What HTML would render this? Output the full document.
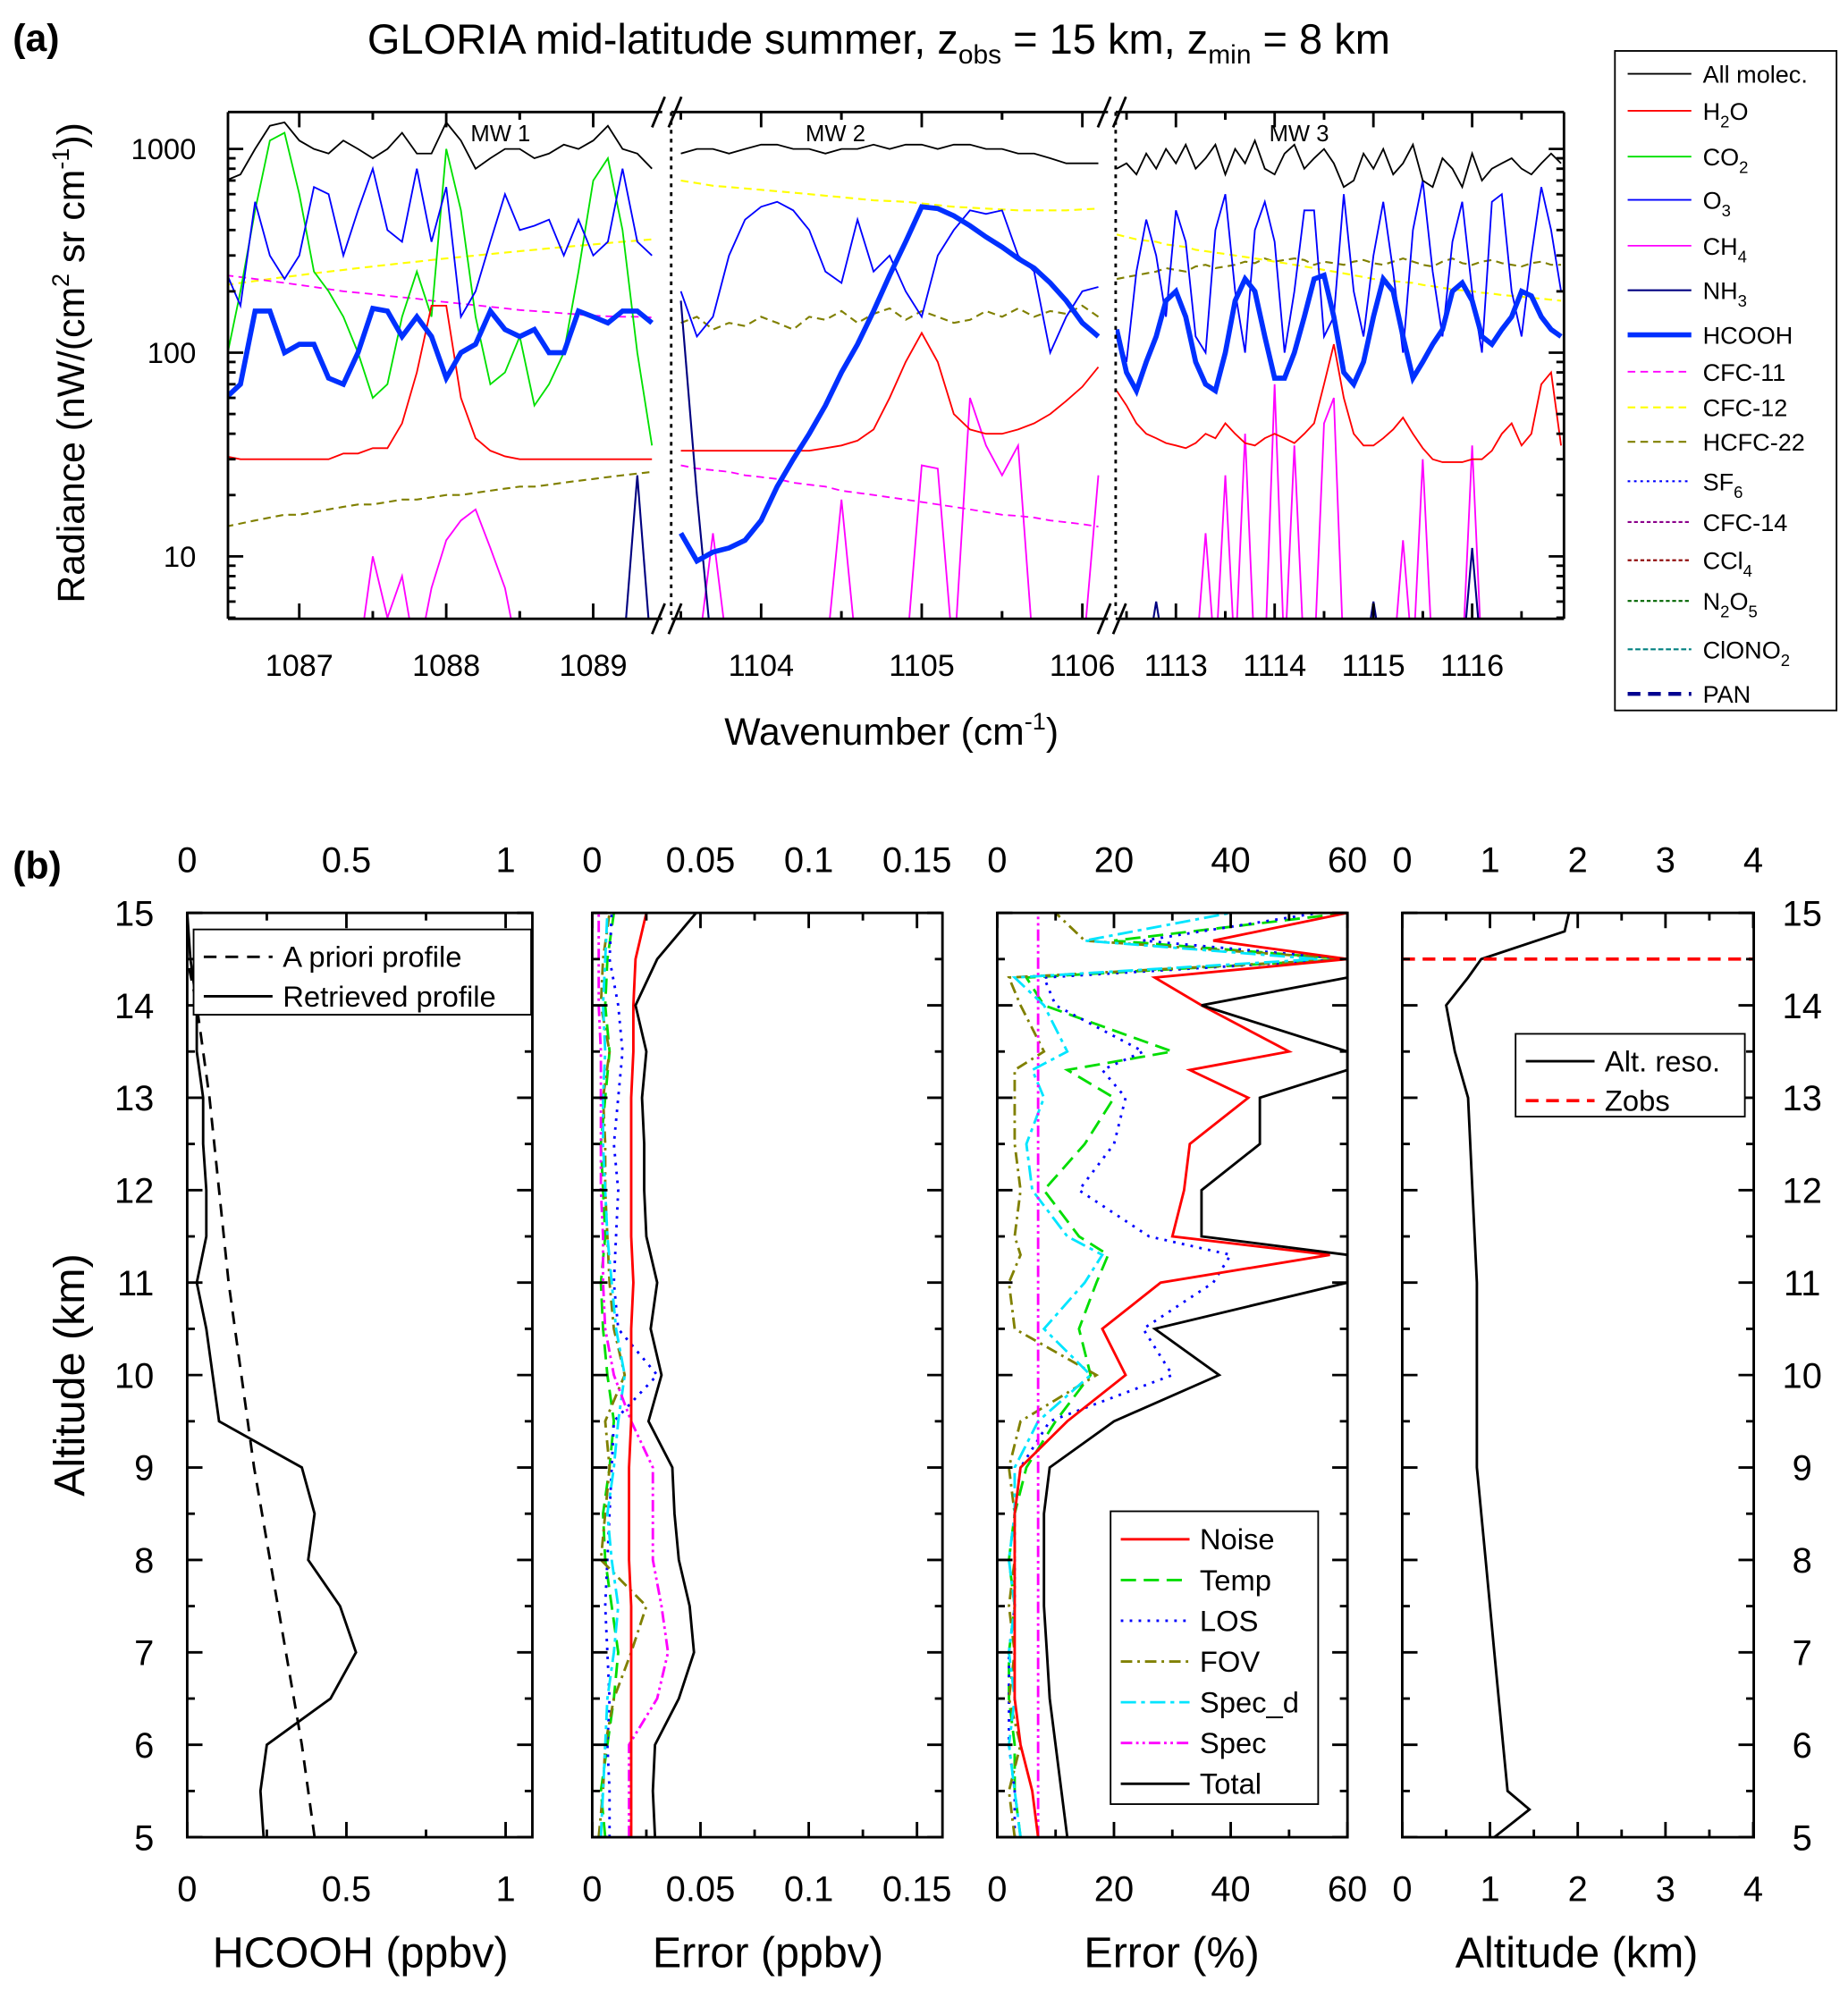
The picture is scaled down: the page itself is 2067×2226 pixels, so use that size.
<!DOCTYPE html>
<html><head><meta charset="utf-8"><title>GLORIA HCOOH</title>
<style>html,body{margin:0;padding:0;background:#fff}svg{display:block}text{font-family:"Liberation Sans",Arial,sans-serif;fill:#000}</style>
</head><body>
<svg id="fig" xmlns="http://www.w3.org/2000/svg" width="2067" height="2226" viewBox="0 0 1451 1563" preserveAspectRatio="none">
<rect x="0" y="0" width="1451" height="1563" fill="#fff"/>
<text x="10" y="40" font-size="30" font-weight="bold">(a)</text>
<text x="10" y="690" font-size="30" font-weight="bold">(b)</text>
<text x="690" y="42" font-size="33" text-anchor="middle">GLORIA mid-latitude summer, z<tspan font-size="21" dy="8">obs</tspan><tspan dy="-8"> = 15 km, z</tspan><tspan font-size="21" dy="8">min</tspan><tspan dy="-8"> = 8 km</tspan></text>
<text transform="translate(66,285) rotate(-90)" font-size="30" text-anchor="middle">Radiance (nW/(cm<tspan font-size="19" dy="-12">2</tspan><tspan dy="12"> sr cm</tspan><tspan font-size="19" dy="-12">-1</tspan><tspan dy="12">))</tspan></text>
<text x="700" y="585" font-size="30" text-anchor="middle">Wavenumber (cm<tspan font-size="19" dy="-12">-1</tspan><tspan dy="12">)</tspan></text>
<text transform="translate(66,1080) rotate(-90)" font-size="34" text-anchor="middle">Altitude (km)</text>
<g id="ga"></g><g id="gb"></g>
</svg>
<script>
const NS="http://www.w3.org/2000/svg";
// ---------- panel (a) data ----------
const mw1Wn=[1086.5,1086.6,1086.7,1086.8,1086.9,1087.0,1087.1,1087.2,1087.3,1087.4,1087.5,1087.6,1087.7,1087.8,1087.9,1088.0,1088.1,1088.2,1088.3,1088.4,1088.5,1088.6,1088.7,1088.8,1088.9,1089.0,1089.1,1089.2,1089.3,1089.4];
const mw1All=[700,750,1000,1300,1350,1100,1000,950,1100,1000,900,1000,1200,950,950,1350,1100,800,900,1000,1000,900,950,1050,1000,1100,1300,1000,950,800];
const mw1H2O=[31,30,30,30,30,30,30,30,32,32,34,34,45,80,170,170,60,38,33,31,30,30,30,30,30,30,30,30,30,30];
const mw1CO2=[90,200,500,1100,1200,600,250,200,150,100,60,70,150,250,150,1000,500,150,70,80,120,55,70,100,250,700,900,400,100,35];
const mw1O3=[250,170,550,300,230,300,650,600,300,500,800,400,350,800,350,650,150,200,350,600,400,420,450,300,450,300,350,800,350,300];
const mw1CH4=[3,3,3,3,3,3,3,3,3,3,10,5,8,3,7,12,15,17,11,7,3,3,3,3,3,3,3,3,3,3];
const mw1NH3=[3,3,3,3,3,3,3,3,3,3,3,3,3,3,3,3,3,3,3,3,3,3,3,3,3,3,3,3,25,3];
const mw1HCOOH=[60,70,160,160,100,110,110,75,70,100,165,160,120,150,120,75,100,110,160,130,120,130,100,100,160,150,140,160,160,140];
const mw1CFC11=[240,235,230,225,220,215,210,205,200,197,194,190,187,184,180,177,174,171,168,165,162,160,158,156,154,152,151,150,150,149];
const mw1CFC12=[215,220,225,230,235,240,245,250,255,260,265,270,275,280,285,290,295,300,305,310,315,320,325,330,335,340,345,350,355,360];
const mw1HCFC22=[14,14.5,15,15.5,16,16,16.5,17,17.5,18,18,18.5,19,19,19.5,20,20,20.5,21,21.5,22,22,22.5,23,23.5,24,24.5,25,25.5,26];
const mw2Wn=[1103.5,1103.6,1103.7,1103.8,1103.9,1104.0,1104.1,1104.2,1104.3,1104.4,1104.5,1104.6,1104.7,1104.8,1104.9,1105.0,1105.1,1105.2,1105.3,1105.4,1105.5,1105.6,1105.7,1105.8,1105.9,1106.0,1106.1];
const mw2All=[950,1000,1000,950,1000,1050,1050,1000,1000,950,1000,1000,1050,1000,1050,1050,1000,1050,1050,1000,1000,950,950,900,850,850,850];
const mw2H2O=[33,33,33,33,33,33,33,33,33,34,35,37,42,60,90,125,90,50,42,40,40,42,45,50,58,68,85];
const mw2O3=[200,120,150,300,450,520,550,500,400,250,220,450,250,300,200,150,300,400,500,480,500,300,250,100,150,200,210];
const mw2CH4=[3,3,13,3,3,3,3,3,3,3,19,3,3,3,3,28,27,3,60,35,25,35,3,3,3,3,25];
const mw2NH3=[180,20,3,3,3,3,3,3,3,3,3,3,3,3,3,3,3,3,3,3,3,3,3,3,3,3,3];
const mw2HCOOH=[13,9.5,10.5,11,12,15,22,30,40,55,80,110,160,240,350,520,510,470,420,370,330,290,260,220,180,140,120];
const mw2CFC11=[28,27,26.5,26,25,24.5,24,23,22.5,22,21,20.5,20,19.5,19,18.5,18,17.5,17,16.5,16,15.8,15.5,15,14.7,14.4,14];
const mw2CFC12=[700,680,660,650,640,630,620,610,600,590,580,570,560,555,550,540,530,520,515,510,505,500,500,500,500,505,510];
const mw2HCFC22=[140,150,130,140,135,150,140,130,150,145,160,140,155,165,145,160,150,140,145,160,150,165,150,160,155,170,150];
const mw3Wn=[1112.4,1112.5,1112.6,1112.7,1112.8,1112.9,1113.0,1113.1,1113.2,1113.3,1113.4,1113.5,1113.6,1113.7,1113.8,1113.9,1114.0,1114.1,1114.2,1114.3,1114.4,1114.5,1114.6,1114.7,1114.8,1114.9,1115.0,1115.1,1115.2,1115.3,1115.4,1115.5,1115.6,1115.7,1115.8,1115.9,1116.0,1116.1,1116.2,1116.3,1116.4,1116.5,1116.6,1116.7,1116.8,1116.9];
const mw3All=[800,850,750,950,800,1000,850,1050,800,900,1050,750,1000,850,1100,800,750,950,1050,800,900,1000,850,650,700,950,800,1000,750,850,1050,700,650,900,800,650,950,700,800,850,900,800,750,850,950,850];
const mw3H2O=[65,55,45,40,38,36,35,34,36,40,38,45,40,36,35,38,40,38,36,40,45,70,110,60,40,35,35,38,42,48,40,34,30,29,29,29,30,30,33,40,45,35,40,70,80,35];
const mw3O3=[130,90,250,450,300,150,500,350,120,100,400,600,200,100,400,550,350,100,200,500,500,120,150,600,200,120,300,550,250,100,400,700,250,120,350,550,200,100,550,600,200,120,300,650,400,200];
const mw3CH4=[3,3,3,3,3,3,3,3,3,13,3,25,3,40,3,3,70,3,35,3,3,45,60,3,3,3,3,3,3,12,3,30,3,3,3,3,35,3,3,3,3,3,3,3,3,3];
const mw3NH3=[3,3,3,3,6,3,3,3,3,3,3,3,3,3,3,3,3,3,3,3,3,3,3,3,3,3,6,3,3,3,3,3,3,3,3,3,11,3,3,3,3,3,3,3,3,3];
const mw3HCOOH=[130,80,65,90,120,180,200,150,90,70,65,100,180,230,200,120,75,75,100,150,230,240,150,80,70,90,150,230,200,120,75,90,110,130,200,220,180,120,110,130,150,200,190,150,130,120];
const mw3CFC12=[380,370,360,355,350,340,335,330,320,315,310,305,300,295,290,285,280,275,270,265,260,255,250,245,240,235,230,228,225,222,220,215,212,208,205,202,200,197,195,192,190,188,186,184,182,180];
const mw3HCFC22=[230,235,240,245,250,260,255,250,265,270,260,265,270,280,275,290,280,285,290,285,270,280,275,270,280,285,275,270,280,290,280,270,265,280,290,275,270,280,285,275,270,265,275,280,270,270];
const legendNames=["All molec.","H2O","CO2","O3","CH4","NH3","HCOOH","CFC-11","CFC-12","HCFC-22","SF6","CFC-14","CCl4","N2O5","ClONO2","PAN"];
// ---------- panel (b) data ----------
const altA=[5,5.5,6,6.5,7,7.5,8,8.5,9,9.5,10,10.5,11,11.5,12,12.5,13,13.5,14,14.5,15];
const retrieved=[0.24,0.23,0.25,0.45,0.53,0.48,0.38,0.40,0.36,0.10,0.08,0.06,0.03,0.06,0.06,0.05,0.05,0.03,0.03,0.01,0.0];
const aprioriAlt=[5,6,7,8,9,10,11,12,13,14,14.5];
const apriori=[0.40,0.36,0.31,0.26,0.21,0.17,0.13,0.10,0.07,0.03,0.0];
const errNoise=[0.018,0.018,0.018,0.018,0.018,0.018,0.017,0.017,0.017,0.018,0.018,0.018,0.019,0.018,0.018,0.018,0.018,0.019,0.019,0.02,0.025];
const errTemp=[0.006,0.004,0.007,0.01,0.012,0.009,0.006,0.005,0.008,0.01,0.007,0.005,0.004,0.006,0.005,0.004,0.006,0.008,0.006,0.007,0.01];
const errLOS=[0.008,0.008,0.007,0.008,0.007,0.006,0.007,0.008,0.009,0.01,0.03,0.012,0.01,0.011,0.012,0.01,0.012,0.014,0.012,0.008,0.009];
const errFOV=[0.003,0.005,0.006,0.01,0.018,0.025,0.004,0.006,0.008,0.006,0.015,0.01,0.008,0.007,0.006,0.006,0.005,0.008,0.004,0.005,0.008];
const errSpecD=[0.004,0.005,0.006,0.007,0.01,0.012,0.009,0.007,0.01,0.012,0.015,0.011,0.009,0.007,0.006,0.005,0.005,0.006,0.005,0.006,0.007];
const errSpec=[0.017,0.017,0.017,0.03,0.035,0.032,0.028,0.028,0.028,0.018,0.01,0.006,0.005,0.005,0.004,0.004,0.004,0.004,0.003,0.003,0.003];
const errTotal=[0.029,0.028,0.029,0.04,0.047,0.045,0.04,0.038,0.037,0.026,0.032,0.027,0.03,0.025,0.024,0.024,0.023,0.025,0.02,0.03,0.048];
const pctAlt=[5,5.5,6,6.5,7,7.5,8,8.5,9,9.5,10,10.5,11,11.3,11.5,12,12.5,13,13.3,13.5,14,14.3,14.5,14.7,15];
const pctNoise=[7,6,4,3,3,3,3,3,4,12,22,18,28,57,30,32,33,43,33,50,35,27,60,37,60];
const pctTemp=[4,3,3,2,2,3,2,3,5,10,16,14,17,19,14,8,15,20,12,30,8,5,60,20,60];
const pctLOS=[3,3,2,2,2,3,3,3,4,9,30,25,37,40,26,14,20,22,18,25,10,8,60,25,55];
const pctFOV=[3,2,4,2,3,2,3,3,2,4,17,3,2,4,3,4,3,3,3,8,4,2,60,15,10];
const pctSpecD=[4,3,2,3,2,3,2,3,3,7,16,8,15,18,12,6,5,8,6,12,8,3,55,15,40];
const pctSpec=[7,7,7,7,7,7,7,7,7,7,7,7,7,7,7,7,7,7,7,7,7,7,7,7,7];
const pctTotal=[12,11,10,9,8.5,8,8,8,9,20,38,27,60,60,35,35,45,45,60,60,35,60,60,60,60];
const resAlt=[5,5.3,5.5,6,7,8,9,10,11,12,13,13.5,14,14.3,14.5,14.8,15];
const altReso=[1.05,1.45,1.2,1.15,1.05,0.95,0.85,0.85,0.85,0.8,0.75,0.6,0.5,0.75,0.9,1.85,1.9];
const zobs=14.5;

function el(tag,attrs,parent){const e=document.createElementNS(NS,tag);for(const k in attrs)e.setAttribute(k,attrs[k]);parent.appendChild(e);return e;}
function txt(s,x,y,size,anchor,parent){const t=el("text",{x:x,y:y,"font-size":size,"text-anchor":anchor||"middle"},parent);t.textContent=s;return t;}
const ga=document.getElementById("ga"), gb=document.getElementById("gb");
const defs=el("defs",{},document.getElementById("fig"));

// ---- panel a scales ----
const TOP=88,BOT=486;
const yA=v=>277-160*Math.log10(v/100);
const segs=[{x0:179,x1:520,w0:1086.515,w1:1089.47},{x0:527,x1:870,w0:1103.44,w1:1106.16},{x0:876,x1:1228,w0:1112.39,w1:1116.93}];
segs.forEach((s,i)=>{s.f=w=>s.x0+(w-s.w0)/(s.w1-s.w0)*(s.x1-s.x0);const cp=el("clipPath",{id:"cpa"+i},defs);el("rect",{x:s.x0,y:TOP,width:s.x1-s.x0,height:BOT-TOP},cp);});
const styles={
 all:{stroke:"#000","stroke-width":1.3},h2o:{stroke:"#ff0000","stroke-width":1.3},co2:{stroke:"#00e000","stroke-width":1.3},o3:{stroke:"#0000ff","stroke-width":1.3},
 ch4:{stroke:"#ff00ff","stroke-width":1.3},nh3:{stroke:"#000080","stroke-width":1.5},hcooh:{stroke:"#0030ff","stroke-width":4},
 cfc11:{stroke:"#ff00ff","stroke-width":1.3,"stroke-dasharray":"6,4"},cfc12:{stroke:"#ffff00","stroke-width":1.5,"stroke-dasharray":"6,4"},hcfc22:{stroke:"#808000","stroke-width":1.5,"stroke-dasharray":"6,4"}};
function specLine(seg,wn,vals,st,name){
 const s=segs[seg];const pts=wn.map((w,i)=>s.f(w).toFixed(1)+","+yA(vals[i]).toFixed(1)).join(" ");
 const p=el("polyline",Object.assign({points:pts,fill:"none","clip-path":"url(#cpa"+seg+")"},st),ga);
 
 
}
const order=[["hcfc22",[mw1HCFC22,mw2HCFC22,mw3HCFC22]],["cfc12",[mw1CFC12,mw2CFC12,mw3CFC12]],["cfc11",[mw1CFC11,mw2CFC11,null]],["ch4",[mw1CH4,mw2CH4,mw3CH4]],["nh3",[mw1NH3,mw2NH3,mw3NH3]],["co2",[mw1CO2,null,null]],["h2o",[mw1H2O,mw2H2O,mw3H2O]],["o3",[mw1O3,mw2O3,mw3O3]],["all",[mw1All,mw2All,mw3All]],["hcooh",[mw1HCOOH,mw2HCOOH,mw3HCOOH]]];
const wns=[mw1Wn,mw2Wn,mw3Wn];
order.forEach(([k,arrs])=>arrs.forEach((a,i)=>{if(a)specLine(i,wns[i],a,styles[k],k+"-line-mw"+(i+1));}));
// frame
const ax=el("g",{stroke:"#000","stroke-width":2,fill:"none"},ga);


segs.forEach((s,i)=>{el("line",{x1:s.x0,y1:TOP,x2:s.x1,y2:TOP},ax);el("line",{x1:s.x0,y1:BOT,x2:s.x1,y2:BOT},ax);});
el("line",{x1:179,y1:TOP,x2:179,y2:BOT},ax);el("line",{x1:1228,y1:TOP,x2:1228,y2:BOT},ax);
[527,876].forEach(x=>el("line",{x1:x,y1:TOP,x2:x,y2:BOT,"stroke-dasharray":"3,4"},ax));
[[520,527],[870,876]].forEach(([a,b])=>[TOP,BOT].forEach(y=>{el("line",{x1:a-8,y1:y+12,x2:a+2,y2:y-12},ax);el("line",{x1:b-2,y1:y+12,x2:b+8,y2:y-12},ax);}));
// y ticks
[10,100,1000].forEach(v=>{const y=yA(v);el("line",{x1:179,y1:y,x2:191,y2:y},ax);el("line",{x1:1216,y1:y,x2:1228,y2:y},ax);
 const t=txt(String(v),154,y+8,23,"end",ga);});
for(let d=1;d<=1000;d*=10)for(let m=2;m<10;m++){const v=d*m;const y=yA(v);if(y<TOP||y>BOT)continue;el("line",{x1:179,y1:y,x2:185,y2:y},ax);el("line",{x1:1222,y1:y,x2:1228,y2:y},ax);}
const xTicks=[[0,[1087,1088,1089]],[1,[1104,1105,1106]],[2,[1113,1114,1115,1116]]];
xTicks.forEach(([i,ts])=>{const s=segs[i];ts.forEach(w=>{const x=s.f(w);el("line",{x1:x,y1:BOT,x2:x,y2:BOT-12},ax);el("line",{x1:x,y1:TOP,x2:x,y2:TOP+12},ax);
 const t=txt(String(w),x,531,24,"middle",ga);
 [w-0.5,w+0.5].forEach(m=>{if(m>s.w0&&m<s.w1){const xm=s.f(m);el("line",{x1:xm,y1:BOT,x2:xm,y2:BOT-6},ax);el("line",{x1:xm,y1:TOP,x2:xm,y2:TOP+6},ax);}});});});
[["MW 1",393],["MW 2",656],["MW 3",1020]].forEach(([s,x])=>{const t=txt(s,x,111,18,"middle",ga);});
// legend a
const lg=el("g",{},ga);


el("rect",{x:1268,y:40,width:174,height:518,fill:"#fff",stroke:"#000","stroke-width":1.3},lg);
const lgY=[58,87,123,157,193,228,263,292,320,347,378,410,440,472,510,545];
const lgStyle=[styles.all,styles.h2o,styles.co2,styles.o3,styles.ch4,styles.nh3,styles.hcooh,styles.cfc11,styles.cfc12,styles.hcfc22,
 {stroke:"#0000ff","stroke-width":1.5,"stroke-dasharray":"2,3"},{stroke:"#8b008b","stroke-width":1.5,"stroke-dasharray":"3,2"},{stroke:"#8b0000","stroke-width":1.5,"stroke-dasharray":"3,2"},{stroke:"#006400","stroke-width":1.5,"stroke-dasharray":"3,2"},{stroke:"#008080","stroke-width":1.5,"stroke-dasharray":"4,2"},{stroke:"#000090","stroke-width":3,"stroke-dasharray":"10,6"}];
const subs={"H2O":["H","2","O"],"CO2":["CO","2",""],"O3":["O","3",""],"CH4":["CH","4",""],"NH3":["NH","3",""],"SF6":["SF","6",""],"CCl4":["CCl","4",""],"N2O5":["N","2","O","5"],"ClONO2":["ClONO","2",""]};
legendNames.forEach((n,i)=>{const y=lgY[i];const g=el("g",{},lg);
 
 
 el("line",Object.assign({x1:1278,y1:y,x2:1328,y2:y},lgStyle[i]),g);
 const t=el("text",{x:1337,y:y+7,"font-size":19},g);
 if(subs[n]){const p=subs[n];t.appendChild(document.createTextNode(p[0]));for(let j=1;j<p.length;j+=2){const s1=el("tspan",{"font-size":13,dy:6},t);s1.textContent=p[j];const s2=el("tspan",{dy:-6},t);s2.textContent=p[j+1]||"";}}
 else t.textContent=n;});

// ---- panel b ----
const BT=717,BB=1443;const yB=a=>1443-(a-5)*72.6;
const plots=[
 {x0:147,x1:418,f:v=>147+v*250,ticks:[0,0.5,1],labs:["0","0.5","1"],minor:0.25,max:1.084,title:"HCOOH (ppbv)",tx:283},
 {x0:465,x1:740,f:v=>465+v*1700,ticks:[0,0.05,0.1,0.15],labs:["0","0.05","0.1","0.15"],minor:0.025,max:0.161,title:"Error (ppbv)",tx:603},
 {x0:783,x1:1058,f:v=>783+v*4.583,ticks:[0,20,40,60],labs:["0","20","40","60"],minor:10,max:60,title:"Error (%)",tx:920},
 {x0:1101,x1:1377,f:v=>1101+v*68.9,ticks:[0,1,2,3,4],labs:["0","1","2","3","4"],minor:0.5,max:4,title:"Altitude (km)",tx:1238}];
plots.forEach((p,i)=>{const cp=el("clipPath",{id:"cpb"+i},defs);el("rect",{x:p.x0,y:BT,width:p.x1-p.x0,height:BB-BT},cp);});
function profLine(pi,vals,alts,st,name){const p=plots[pi];
 const pts=vals.map((v,i)=>p.f(v).toFixed(1)+","+yB(alts[i]).toFixed(1)).join(" ");
 const l=el("polyline",Object.assign({points:pts,fill:"none","clip-path":"url(#cpb"+pi+")"},st),gb);
 
 }
const bS={noise:{stroke:"#ff0000","stroke-width":2},temp:{stroke:"#00dd00","stroke-width":2,"stroke-dasharray":"12,6"},los:{stroke:"#0000ff","stroke-width":2,"stroke-dasharray":"2,5"},
 fov:{stroke:"#808000","stroke-width":2,"stroke-dasharray":"9,4,2,4"},specd:{stroke:"#00e5ff","stroke-width":2,"stroke-dasharray":"12,4,3,4"},spec:{stroke:"#ff00ff","stroke-width":2,"stroke-dasharray":"9,3,2,3,2,3"},total:{stroke:"#000","stroke-width":2}};
profLine(0,apriori,aprioriAlt,{stroke:"#000","stroke-width":2,"stroke-dasharray":"10,7"},"apriori-profile");
profLine(0,retrieved,altA,{stroke:"#000","stroke-width":2},"retrieved-profile");
[["temp",errTemp],["los",errLOS],["fov",errFOV],["specd",errSpecD],["spec",errSpec],["noise",errNoise],["total",errTotal]].forEach(([k,a])=>profLine(1,a,altA,bS[k],"error-ppbv-"+k));
[["temp",pctTemp],["los",pctLOS],["fov",pctFOV],["specd",pctSpecD],["spec",pctSpec],["noise",pctNoise],["total",pctTotal]].forEach(([k,a])=>profLine(2,a,pctAlt,bS[k],"error-pct-"+k));
profLine(3,altReso,resAlt,{stroke:"#000","stroke-width":2},"altitude-resolution");
const zl=el("line",{x1:1101,x2:1377,y1:yB(zobs),y2:yB(zobs),stroke:"#ff0000","stroke-width":2.5,"stroke-dasharray":"10,6"},gb);


plots.forEach((p,i)=>{const g=el("g",{stroke:"#000","stroke-width":2,fill:"none"},gb);
 
 
 el("rect",{x:p.x0,y:BT,width:p.x1-p.x0,height:BB-BT},g);
 for(let a=5;a<=15;a+=0.5){const y=yB(a);const L=(a%1===0)?12:6;el("line",{x1:p.x0,y1:y,x2:p.x0+L,y2:y},g);el("line",{x1:p.x1-L,y1:y,x2:p.x1,y2:y},g);}
 for(let v=0;v<=p.max+1e-9;v+=p.minor){const x=p.f(v);const major=p.ticks.some(t=>Math.abs(t-v)<1e-9);const L=major?12:6;el("line",{x1:x,y1:BB,x2:x,y2:BB-L},g);el("line",{x1:x,y1:BT,x2:x,y2:BT+L},g);}
 p.ticks.forEach((t,j)=>{const x=p.f(t);const a=txt(p.labs[j],x,1493,28,"middle",gb);
  const b=txt(p.labs[j],x,685,28,"middle",gb);});
 const tt=txt(p.title,p.tx,1545,34,"middle",gb);});
for(let a=5;a<=15;a++){const y=yB(a)+10;const t=txt(String(a),121,y,28,"end",gb);
 const r=txt(String(a),1415,y,28,"middle",gb);}
function legendBox(x,y,w,h,entries,lh,size,name){const g=el("g",{},gb);
 
 
 el("rect",{x:x,y:y,width:w,height:h,fill:"#fff",stroke:"#000","stroke-width":1.3},g);
 entries.forEach(([lab,st],i)=>{const yy=y+lh/2+6+i*lh;el("line",Object.assign({x1:x+8,y1:yy,x2:x+62,y2:yy},st),g);
  const t=txt(lab,x+70,yy+8,size,"start",g);});}
legendBox(152,730,265,67,[["A priori profile",{stroke:"#000","stroke-width":2,"stroke-dasharray":"10,7"}],["Retrieved profile",{stroke:"#000","stroke-width":2}]],31,23,"profile-legend");
legendBox(872,1187,163,230,[["Noise",bS.noise],["Temp",bS.temp],["LOS",bS.los],["FOV",bS.fov],["Spec_d",bS.specd],["Spec",bS.spec],["Total",bS.total]],32,23,"error-legend");
legendBox(1190,812,180,65,[["Alt. reso.",{stroke:"#000","stroke-width":2}],["Zobs",{stroke:"#ff0000","stroke-width":2.5,"stroke-dasharray":"10,6"}]],31,23,"resolution-legend");
</script>
</body></html>
